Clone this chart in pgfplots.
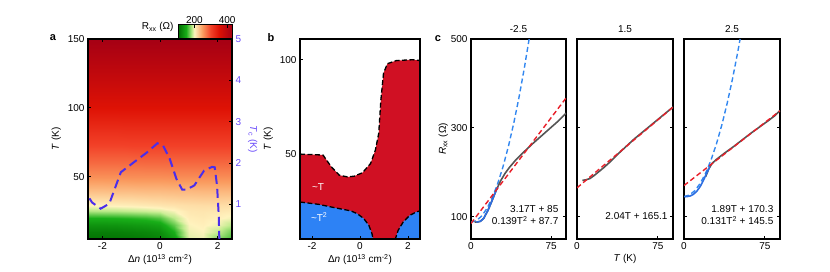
\documentclass[border=0pt]{standalone}
\usepackage{fontspec}
\setmainfont{Liberation Sans}
\usepackage{pgfplots}
\pgfplotsset{compat=1.18}
\definecolor{tcline}{RGB}{75,45,235}
\definecolor{tclab}{RGB}{105,75,250}
\definecolor{bred}{RGB}{208,16,35}
\definecolor{bblue}{RGB}{45,130,245}
\definecolor{cgray}{RGB}{85,85,85}
\definecolor{cred}{RGB}{232,30,40}
\definecolor{cblue}{RGB}{50,135,240}
\definecolor{cbluesolid}{RGB}{45,110,225}
\begin{document}
\fontsize{10bp}{12bp}\selectfont
\begin{tikzpicture}
\useasboundingbox (0,0) rectangle (830bp,272bp);
\pgfplotsset{
  base/.style={scale only axis, height=200bp, anchor=south west,
    tick align=inside, axis line style={line width=1.2bp},
    major tick length=3bp, every tick/.style={black, line width=1bp},
    /pgf/number format/assume math mode=true,
    tick label style={font=\fontsize{10bp}{12bp}\selectfont},
    label style={font=\fontsize{10bp}{12bp}\selectfont},
    title style={font=\fontsize{10bp}{12bp}\selectfont},
  },
  cstyle/.style={base, width=95bp, xmin=0, xmax=89, ymin=50, ymax=500,
    xtick={0,75}, ytick={100,300,500}, xtick pos=left, ytick pos=both,
    title style={yshift=-3bp}},
}
% ---------- panel a ----------
\begin{axis}[base, at={(88bp,33bp)}, width=144bp,
  xmin=-2.5, xmax=2.5, ymin=5, ymax=150,
  xtick={-2,0,2}, ytick={50,100,150}, xtick pos=both, ytick pos=left,
  xlabel={Δ\textit{n} (10\textsuperscript{13} cm\textsuperscript{-2})},
  ylabel={\textit{T} (K)},
  xlabel style={yshift=2bp},
  axis on top,
  colormap={rxx}{rgb255(0cm)=(0,105,0); rgb255(1cm)=(25,175,25); rgb255(1.7cm)=(190,235,140); rgb255(2cm)=(255,243,190); rgb255(3cm)=(250,155,95); rgb255(4cm)=(242,65,40); rgb255(5cm)=(222,18,5); rgb255(6.6cm)=(165,0,20)},
  point meta min=100, point meta max=430,
  colorbar horizontal,
  colorbar style={at={(1,1)}, anchor=south east, yshift=4bp,
    scale only axis, width=54bp, height=14bp,
    xtick={200,400}, xticklabel pos=upper, xtick pos=upper,
    tick align=inside, major tick length=3bp,
    axis line style={line width=1bp},
    /pgf/number format/assume math mode=true,
    tick label style={font=\fontsize{10bp}{12bp}\selectfont, yshift=-2bp}},
]
\addplot[surf, shader=interp, mesh/cols=11, point meta=explicit] table[meta=r] {
x y r
-2.5 5 108
-2 5 108
-1.5 5 109
-1 5 110
-0.5 5 113
0 5 118
0.5 5 138
1 5 192
1.5 5 196
2 5 172
2.5 5 158
-2.5 10 115
-2 10 115
-1.5 10 116
-1 10 118
-0.5 10 121
0 10 126
0.5 10 150
1 10 196
1.5 10 199
2 10 186
2.5 10 168
-2.5 15 130
-2 15 130
-1.5 15 131
-1 15 133
-0.5 15 136
0 15 141
0.5 15 165
1 15 199
1.5 15 202
2 15 196
2.5 15 184
-2.5 20 150
-2 20 150
-1.5 20 151
-1 20 153
-0.5 20 156
0 20 162
0.5 20 184
1 20 203
1.5 20 205
2 20 202
2.5 20 197
-2.5 25 182
-2 25 183
-1.5 25 184
-1 25 186
-0.5 25 188
0 25 191
0.5 25 198
1 25 207
1.5 25 208
2 25 207
2.5 25 205
-2.5 30 201
-2 30 202
-1.5 30 203
-1 30 204
-0.5 30 206
0 30 208
0.5 30 210
1 30 212
1.5 30 213
2 30 213
2.5 30 212
-2.5 40 230
-2 40 230
-1.5 40 231
-1 40 231
-0.5 40 232
0 40 232
0.5 40 233
1 40 233
1.5 40 234
2 40 234
2.5 40 234
-2.5 50 256
-2 50 256
-1.5 50 256
-1 50 257
-0.5 50 257
0 50 257
0.5 50 258
1 50 258
1.5 50 258
2 50 258
2.5 50 258
-2.5 60 277
-2 60 277
-1.5 60 277
-1 60 277
-0.5 60 278
0 60 278
0.5 60 278
1 60 278
1.5 60 278
2 60 278
2.5 60 278
-2.5 75 304
-2 75 304
-1.5 75 304
-1 75 305
-0.5 75 305
0 75 305
0.5 75 305
1 75 305
1.5 75 305
2 75 305
2.5 75 305
-2.5 100 350
-2 100 350
-1.5 100 350
-1 100 350
-0.5 100 350
0 100 350
0.5 100 350
1 100 350
1.5 100 350
2 100 350
2.5 100 350
-2.5 125 392
-2 125 392
-1.5 125 392
-1 125 392
-0.5 125 392
0 125 392
0.5 125 392
1 125 392
1.5 125 392
2 125 392
2.5 125 392
-2.5 150 430
-2 150 430
-1.5 150 430
-1 150 430
-0.5 150 430
0 150 430
0.5 150 430
1 150 430
1.5 150 430
2 150 430
2.5 150 430
};
\end{axis}
\begin{axis}[base, at={(88bp,33bp)}, width=144bp,
  xmin=-2.5, xmax=2.5, ymin=0.16667, ymax=5,
  axis x line=none, axis y line*=right, ytick={1,2,3,4,5},
  yticklabel style={color=tclab},
  ylabel={\textit{T}\textsubscript{c} (K)},
  ylabel style={color=tclab, rotate=180},
  clip=false,
]
\addplot[tcline, line width=2bp, dash pattern=on 9bp off 5bp] coordinates {
(-2.45,1.15) (-2.36,1.05) (-2.06,0.90) (-1.76,1.02) (-1.36,1.78) (-0.91,2.02) (-0.45,2.26) (-0.09,2.48) (0.11,2.42) (0.34,2.10) (0.57,1.62) (0.77,1.36) (0.91,1.36) (1.19,1.46) (1.53,1.82) (1.81,1.91) (1.90,1.90) (1.98,1.46) (2.04,0.74) (2.06,0.17)
};
\end{axis}
\node[anchor=east] at (177bp,245bp) {R\textsubscript{xx} (Ω)};
\node[font=\bfseries\fontsize{11bp}{12bp}\selectfont] at (53bp,234bp) {a};
% ---------- panel b ----------
\begin{axis}[base, at={(300bp,33bp)}, width=120bp,
  xmin=-2.5, xmax=2.5, ymin=5, ymax=111,
  xtick={-2,0,2}, ytick={50,100}, tick pos=left,
  xlabel={Δ\textit{n} (10\textsuperscript{13} cm\textsuperscript{-2})},
  ylabel={\textit{T} (K)},
  xlabel style={yshift=2bp},
  axis on top,
]
\addplot[fill=bred, draw=none] coordinates {
(-2.5,50) (-1.54,49.5) (-1.2,43.3) (-0.86,38.8) (-0.52,37.9) (-0.24,38.3) (0.1,40.1) (0.44,45) (0.64,52.1) (0.78,61) (0.87,78.7) (0.98,92.9) (1.14,97.9) (1.52,99.6) (2.2,100) (2.5,99.6)
} \closedcycle;
\addplot[fill=bblue, draw=none] coordinates {
(-2.5,24.6) (-1.74,23.4) (-1.06,21.6) (-0.38,19.9) (-0.11,18.4) (0.16,15.8) (0.37,12.2) (0.5,7.8) (0.55,4.5) (0.56,0)
} \closedcycle;
\addplot[fill=bblue, draw=none] coordinates {
(1.44,0) (1.46,4.5) (1.59,9.6) (1.8,14) (2.07,17.5) (2.34,19.3) (2.5,19.9)
} \closedcycle;
\addplot[black, line width=1.3bp, dash pattern=on 5bp off 2.5bp] coordinates {
(-2.5,50) (-1.54,49.5) (-1.2,43.3) (-0.86,38.8) (-0.52,37.9) (-0.24,38.3) (0.1,40.1) (0.44,45) (0.64,52.1) (0.78,61) (0.87,78.7) (0.98,92.9) (1.14,97.9) (1.52,99.6) (2.2,100) (2.5,99.6)
};
\addplot[black, line width=1.3bp, dash pattern=on 5bp off 2.5bp] coordinates {
(-2.5,24.6) (-1.74,23.4) (-1.06,21.6) (-0.38,19.9) (-0.11,18.4) (0.16,15.8) (0.37,12.2) (0.5,7.8) (0.55,4.5)
};
\addplot[black, line width=1.3bp, dash pattern=on 5bp off 2.5bp] coordinates {
(1.46,4.5) (1.59,9.6) (1.8,14) (2.07,17.5) (2.34,19.3) (2.5,19.9)
};
\node[white] at (axis cs:-1.75,32.6) {\textasciitilde T};
\node[white] at (axis cs:-1.7,16.7) {\textasciitilde T\textsuperscript{2}};
\end{axis}
\node[font=\bfseries\fontsize{11bp}{12bp}\selectfont] at (271bp,234bp) {b};
% ---------- panel c ----------
\begin{axis}[cstyle, at={(471bp,33bp)}, title={-2.5},
  ylabel={\textit{R}\textsubscript{xx} (Ω)}, ylabel style={yshift=-4bp}]
\addplot[cblue, line width=1.4bp, dash pattern=on 5bp off 3bp] coordinates {
(0,87.7) (5,91.2) (10,101.6) (15,119) (20,143.3) (25,174.6) (30,212.8) (35,258) (40,310.1) (45,369.2) (50,435.2) (54.46,500)
};
\addplot[cgray, line width=1.6bp] coordinates {
(3.5,88) (6,88) (9,90) (12,97) (16,115) (20,138) (24,162) (28,182) (32,198) (36,211) (42,228) (50,247) (58,265) (66,282) (74,299) (82,316) (89,333)
};
\addplot[cbluesolid, line width=1.6bp] coordinates {
(5,88) (9,90) (12,97) (16,115) (20,138) (24,162) (25,167)
};
\addplot[cred, line width=1.4bp, dash pattern=on 5bp off 3bp] coordinates {(0,85) (89,367.1)};
\node[anchor=east, inner sep=0pt] at (axis cs:82,118) {3.17T + 85};
\node[anchor=east, inner sep=0pt] at (axis cs:82,91) {0.139T\textsuperscript{2} + 87.7};
\end{axis}
\node[font=\bfseries\fontsize{11bp}{12bp}\selectfont] at (438bp,233bp) {c};
\begin{axis}[cstyle, at={(577bp,33bp)}, width=96bp, title={1.5}, yticklabels={},
  xlabel={\textit{T} (K)}, xlabel style={yshift=2bp}]
\addplot[cgray, line width=1.6bp] coordinates {
(5,182) (8,183) (12,186) (16,193) (20,201) (25,211) (30,222) (37,239) (45,257) (53,275) (60,289) (68,305) (75,319) (82,333) (89,347)
};
\addplot[cred, line width=1.4bp, dash pattern=on 5bp off 3bp] coordinates {(0,165.1) (89,346.7)};
\node[anchor=east, inner sep=0pt] at (axis cs:84,102) {2.04T + 165.1};
\end{axis}
\begin{axis}[cstyle, at={(684bp,33bp)}, width=96bp, title={2.5}, yticklabels={}]
\addplot[cblue, line width=1.4bp, dash pattern=on 5bp off 3bp] coordinates {
(0,145.5) (5,148.8) (10,158.6) (15,175) (20,197.9) (25,227.4) (30,263.4) (35,306) (40,355.1) (45,410.8) (50,473) (52.02,500)
};
\addplot[cgray, line width=1.6bp] coordinates {
(20,190) (23,208) (26,220) (30,229) (38,244) (46,258) (54,273) (62,288) (70,302) (78,316) (84,327) (89,339)
};
\addplot[cbluesolid, line width=1.6bp] coordinates {
(0.5,145) (3,145.5) (6,147) (9,151) (12,158) (15,168) (18,182) (21,198) (24,213)
};
\addplot[cred, line width=1.4bp, dash pattern=on 5bp off 3bp] coordinates {(0,170.3) (89,338.5)};
\node[anchor=east, inner sep=0pt] at (axis cs:83,118) {1.89T + 170.3};
\node[anchor=east, inner sep=0pt] at (axis cs:83,91) {0.131T\textsuperscript{2} + 145.5};
\end{axis}
\end{tikzpicture}
\end{document}
